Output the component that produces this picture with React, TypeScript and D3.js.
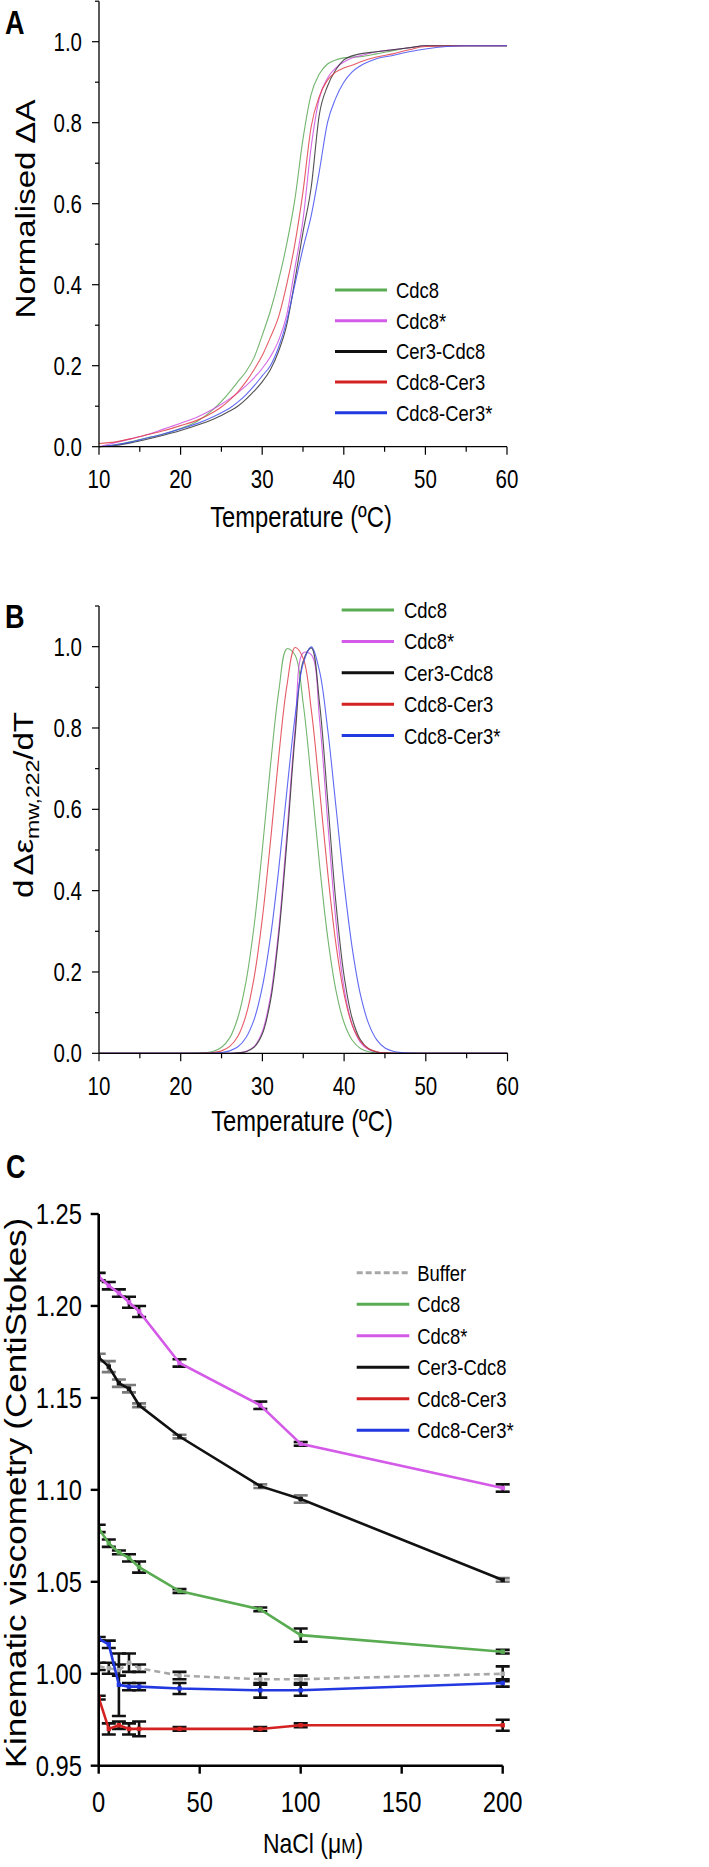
import React from "react";
import * as d3 from "d3";

// ---------------- DATA ----------------
const seriesNames = ["Cdc8", "Cdc8*", "Cer3-Cdc8", "Cdc8-Cer3", "Cdc8-Cer3*"];
const traceColors = ["#5aa855", "#cc4fe0", "#333333", "#e0404a", "#4450f0"];
const legendColors = ["#5aac52", "#d45ae8", "#111111", "#d42222", "#2238e0"];

// Panel A: normalised absorbance change vs temperature
const tempA = [10, 12, 14, 16, 18, 20, 22, 24, 25, 26, 27, 28, 29, 30, 31, 32, 33, 34, 35, 36, 37, 38, 39, 40, 41, 42, 44, 46, 48, 50, 55, 60];
const meltCdc8 = [0.0, 0.005, 0.013, 0.022, 0.032, 0.045, 0.062, 0.092, 0.112, 0.135, 0.16, 0.185, 0.22, 0.275, 0.335, 0.41, 0.5, 0.61, 0.76, 0.87, 0.92, 0.945, 0.955, 0.96, 0.962, 0.963, 0.97, 0.978, 0.985, 0.99, 0.99, 0.99];
const meltCdc8s = [0.0, 0.01, 0.02, 0.03, 0.044, 0.058, 0.073, 0.093, 0.105, 0.118, 0.133, 0.15, 0.17, 0.193, 0.222, 0.262, 0.325, 0.44, 0.56, 0.74, 0.86, 0.91, 0.935, 0.95, 0.96, 0.965, 0.975, 0.98, 0.985, 0.99, 0.99, 0.99];
const meltCer3Cdc8 = [0.0, 0.003, 0.01, 0.019, 0.029, 0.04, 0.053, 0.068, 0.077, 0.088, 0.1, 0.117, 0.137, 0.16, 0.19, 0.235, 0.3, 0.41, 0.53, 0.64, 0.82, 0.89, 0.93, 0.955, 0.965, 0.97, 0.975, 0.98, 0.985, 0.99, 0.99, 0.99];
const meltCdc8Cer3 = [0.008, 0.012, 0.02, 0.03, 0.04, 0.052, 0.065, 0.085, 0.098, 0.115, 0.135, 0.16, 0.19, 0.225, 0.27, 0.32, 0.4, 0.5, 0.63, 0.79, 0.865, 0.905, 0.925, 0.935, 0.942, 0.95, 0.962, 0.97, 0.98, 0.988, 0.99, 0.99];
const meltCdc8Cer3s = [0.0, 0.005, 0.012, 0.022, 0.032, 0.044, 0.057, 0.074, 0.084, 0.095, 0.11, 0.128, 0.15, 0.175, 0.2, 0.245, 0.31, 0.4, 0.49, 0.57, 0.68, 0.8, 0.86, 0.9, 0.925, 0.94, 0.958, 0.966, 0.975, 0.982, 0.99, 0.99];

// Panel B: derivative curves
const tempB = [10, 20, 21, 22, 23, 24, 25, 26, 27, 28, 29, 30, 31, 32, 33, 34, 35, 36, 37, 38, 39, 40, 41, 42, 43, 44, 45, 46, 47, 48, 49, 50, 60];
const derivCdc8 = [0, 0, 0, 0.0004, 0.0016, 0.005, 0.015, 0.038, 0.088, 0.177, 0.316, 0.503, 0.71, 0.89, 0.995, 0.979, 0.859, 0.669, 0.463, 0.284, 0.155, 0.075, 0.032, 0.012, 0.004, 0.001, 0, 0, 0, 0, 0, 0, 0];
const derivCdc8s = [0, 0, 0, 0, 0, 0, 0, 0.0002, 0.001, 0.005, 0.017, 0.054, 0.141, 0.304, 0.541, 0.797, 0.985, 0.98, 0.82, 0.567, 0.325, 0.16, 0.07, 0.027, 0.009, 0.003, 0.001, 0, 0, 0, 0, 0, 0];
const derivCer3Cdc8 = [0, 0, 0, 0, 0, 0, 0, 0.0001, 0.001, 0.004, 0.015, 0.048, 0.13, 0.29, 0.52, 0.78, 0.965, 0.997, 0.86, 0.62, 0.37, 0.19, 0.085, 0.033, 0.011, 0.003, 0.001, 0, 0, 0, 0, 0, 0];
const derivCdc8Cer3 = [0, 0, 0, 0.0001, 0.0005, 0.002, 0.006, 0.017, 0.042, 0.094, 0.188, 0.333, 0.523, 0.73, 0.904, 0.998, 0.971, 0.842, 0.648, 0.443, 0.269, 0.145, 0.069, 0.03, 0.011, 0.004, 0.001, 0, 0, 0, 0, 0, 0];
const derivCdc8Cer3s = [0, 0, 0, 0, 0.0002, 0.0006, 0.002, 0.006, 0.016, 0.039, 0.084, 0.164, 0.287, 0.453, 0.646, 0.829, 0.959, 0.9995, 0.939, 0.795, 0.607, 0.417, 0.258, 0.144, 0.073, 0.033, 0.013, 0.005, 0.0016, 0.0005, 0, 0, 0];

// Panel C: kinematic viscometry vs NaCl
const naclConc = [0, 5, 10, 15, 20, 40, 80, 100, 200];
const viscNames = ["Buffer", "Cdc8", "Cdc8*", "Cer3-Cdc8", "Cdc8-Cer3", "Cdc8-Cer3*"];
const viscColors = ["#a8a8a8", "#5aac52", "#d45ae8", "#111111", "#d42222", "#2238e0"];
const viscBuffer = [1.004, 1.003, 1.002, 1.006, 1.003, 0.999, 0.997, 0.997, 1.0];
const viscCdc8 = [1.079, 1.071, 1.066, 1.063, 1.058, 1.045, 1.035, 1.021, 1.012];
const viscCdc8s = [1.216, 1.211, 1.207, 1.202, 1.197, 1.169, 1.146, 1.125, 1.101];
const viscCer3Cdc8 = [1.172, 1.167, 1.158, 1.155, 1.146, 1.129, 1.102, 1.095, 1.051];
const viscCdc8Cer3 = [0.987, 0.97, 0.972, 0.97, 0.97, 0.97, 0.97, 0.972, 0.972];
const viscCdc8Cer3s = [1.019, 1.016, 0.994, 0.993, 0.993, 0.992, 0.991, 0.991, 0.995];
const errBuffer = [0.002, 0.003, 0.003, 0.005, 0.002, 0.002, 0.003, 0.002, 0.004];
const errCdc8 = [0.002, 0.002, 0.001, 0.002, 0.003, 0.001, 0.001, 0.0036, 0.001];
const errCdc8s = [0.002, 0.002, 0.002, 0.003, 0.003, 0.002, 0.002, 0.001, 0.002];
const errCer3Cdc8 = [0.002, 0.003, 0.002, 0.002, 0.001, 0.001, 0.001, 0.002, 0.001];
const errCdc8Cer3 = [0.001, 0.003, 0.002, 0.003, 0.004, 0.001, 0.001, 0.001, 0.003];
const errCdc8Cer3s = [0.001, 0.002, 0.017, 0.002, 0.002, 0.003, 0.004, 0.003, 0.002];

// ---------------- LAYOUT ----------------
const FONT = "'Liberation Sans', Arial, Helvetica, sans-serif";
const SX = 0.82; // horizontal squeeze of the original figure

function SText(props: any) {
  const { x, y, size, anchor = "start", weight = "normal", rotate = false, children, dy } = props;
  return (
    <g transform={`translate(${x},${y}) scale(${SX},1)${rotate ? " rotate(-90)" : ""}`}>
      <text textAnchor={anchor} fontSize={size} fontWeight={weight} fontFamily={FONT} fill="#000" dy={dy}>
        {children}
      </text>
    </g>
  );
}

function TempPanel(props: any) {
  const { x, y, curves, legend } = props;
  const [yBottom] = y.range();
  const [xLeft, xRight] = x.range();
  const yTop = y.range()[1];
  const yT = y.ticks(11);
  const xT = x.ticks(10);
  const fmt = d3.format(".1f");
  return (
    <g>
      {curves.map((c: any, i: number) => {
        const gen = d3
          .line<number>()
          .x((_d, k) => x(c.t[k]))
          .y((d) => y(d))
          .curve(c.smooth ? d3.curveCatmullRom.alpha(0.5) : d3.curveMonotoneX);
        return <path key={i} d={gen(c.v) || ""} fill="none" stroke={traceColors[i]} strokeWidth={1.1} strokeOpacity={0.85} />;
      })}
      <line x1={xLeft} x2={xLeft} y1={yBottom} y2={yTop} stroke="#000" strokeWidth={1.3} />
      <line x1={xLeft} x2={xRight} y1={yBottom} y2={yBottom} stroke="#000" strokeWidth={1.3} />
      {yT.map((t: number, i: number) => {
        const major = i % 2 === 0 && t <= 1.0001;
        return (
          <g key={"y" + i}>
            <line x1={xLeft - (major ? 7 : 4)} x2={xLeft} y1={y(t)} y2={y(t)} stroke="#000" strokeWidth={1.2} />
            {major && (
              <SText x={82} y={y(t)} size={25} anchor="end" dy="0.36em">
                {fmt(t)}
              </SText>
            )}
          </g>
        );
      })}
      {xT.map((t: number, i: number) => {
        const major = t % 10 === 0;
        return (
          <g key={"x" + i}>
            <line x1={x(t)} x2={x(t)} y1={yBottom} y2={yBottom + (major ? 8 : 5)} stroke="#000" strokeWidth={1.2} />
            {major && (
              <SText x={x(t)} y={yBottom + 41.5} size={25} anchor="middle">
                {t}
              </SText>
            )}
          </g>
        );
      })}
      {seriesNames.map((n, i) => {
        const ry = legend.y0 + i * legend.dy;
        return (
          <g key={"l" + i}>
            <line x1={legend.x1} x2={legend.x2} y1={ry} y2={ry} stroke={legendColors[i]} strokeWidth={3} />
            <SText x={legend.tx} y={ry + 8} size={22.5}>
              {n}
            </SText>
          </g>
        );
      })}
    </g>
  );
}

export default function App() {
  // Panel A scales
  const xA = d3.scaleLinear().domain([10, 60]).range([99, 507]);
  const yA = d3.scaleLinear().domain([0, 1.1]).range([446.7, 1.2]);
  // Panel B scales
  const xB = d3.scaleLinear().domain([10, 60]).range([99, 507.5]);
  const yB = d3.scaleLinear().domain([0, 1.1]).range([1053.3, 606]);
  // Panel C scales
  const xC = d3.scaleLinear().domain([0, 200]).range([98.7, 502.7]);
  const yC = d3.scaleLinear().domain([0.95, 1.25]).range([1765.7, 1214]);

  const curvesA = [meltCdc8, meltCdc8s, meltCer3Cdc8, meltCdc8Cer3, meltCdc8Cer3s].map((v) => ({ t: tempA, v, smooth: false }));
  const curvesB = [derivCdc8, derivCdc8s, derivCer3Cdc8, derivCdc8Cer3, derivCdc8Cer3s].map((v) => ({ t: tempB, v, smooth: true }));

  const viscSeries = [viscBuffer, viscCdc8, viscCdc8s, viscCer3Cdc8, viscCdc8Cer3, viscCdc8Cer3s];
  const viscErr = [errBuffer, errCdc8, errCdc8s, errCer3Cdc8, errCdc8Cer3, errCdc8Cer3s];
  const lineC = d3
    .line<number>()
    .x((_d, k) => xC(naclConc[k]))
    .y((d) => yC(d));
  const [cLeft, cRight] = xC.range();
  const [cBottom, cTop] = yC.range();
  const fmt2 = d3.format(".2f");
  const capHalf = 7;

  return (
    <svg width={709} height={1867} viewBox="0 0 709 1867" style={{ display: "block", position: "absolute", left: 0, top: 0 }}>
      <rect x={0} y={0} width={709} height={1867} fill="#fff" />
      <defs>
        <clipPath id="clipC">
          <rect x={cLeft} y={cTop - 10} width={cRight - cLeft + 20} height={cBottom - cTop + 20} />
        </clipPath>
      </defs>

      {/* Panel A */}
      <SText x={5} y={34} size={33} weight="bold">A</SText>
      <TempPanel x={xA} y={yA} curves={curvesA} legend={{ x1: 335, x2: 387, tx: 396, y0: 290, dy: 30.7 }} />
      <SText x={35} y={209} size={33} anchor="middle" rotate>
        Normalised<tspan dx={8}>ΔA</tspan>
      </SText>
      <SText x={301} y={527} size={29} anchor="middle">Temperature (ºC)</SText>

      {/* Panel B */}
      <SText x={5} y={628} size={33} weight="bold">B</SText>
      <TempPanel x={xB} y={yB} curves={curvesB} legend={{ x1: 341.7, x2: 394, tx: 404, y0: 610, dy: 31.4 }} />
      <SText x={33} y={805} size={33} anchor="middle" rotate>
        d<tspan dx={4}>Δε</tspan>
        <tspan fontSize={23} dy={7}>mw,222</tspan>
        <tspan dy={-7}>/dT</tspan>
      </SText>
      <SText x={302} y={1131} size={29} anchor="middle">Temperature (ºC)</SText>

      {/* Panel C */}
      <SText x={6} y={1178} size={33} weight="bold">C</SText>
      <g clipPath="url(#clipC)">
        {viscSeries.map((vals, s) => (
          <g key={"e" + s}>
            {vals.map((v, k) => {
              const e = viscErr[s][k];
              const cx = xC(naclConc[k]);
              const col = s === 3 ? "#7a7a7a" : "#111";
              return (
                <g key={k} stroke={col} strokeWidth={2.6}>
                  <line x1={cx} x2={cx} y1={yC(v - e)} y2={yC(v + e)} />
                  <line x1={cx - capHalf} x2={cx + capHalf} y1={yC(v + e)} y2={yC(v + e)} />
                  <line x1={cx - capHalf} x2={cx + capHalf} y1={yC(v - e)} y2={yC(v - e)} />
                </g>
              );
            })}
          </g>
        ))}
        {viscSeries.map((vals, s) => (
          <g key={"l" + s}>
            <path
              d={lineC(vals) || ""}
              fill="none"
              stroke={viscColors[s]}
              strokeWidth={2.6}
              strokeDasharray={s === 0 ? "6,4" : undefined}
            />
            {vals.map((v, k) => (
              <rect key={k} x={xC(naclConc[k]) - 2.2} y={yC(v) - 2.2} width={4.4} height={4.4} fill={viscColors[s]} />
            ))}
          </g>
        ))}
      </g>
      <line x1={cLeft} x2={cLeft} y1={cBottom} y2={cTop} stroke="#000" strokeWidth={2.6} />
      <line x1={cLeft} x2={cRight} y1={cBottom} y2={cBottom} stroke="#000" strokeWidth={2.6} />
      {yC.ticks(6).map((t: number, i: number) => (
        <g key={"cy" + i}>
          <line x1={cLeft - 8} x2={cLeft} y1={yC(t)} y2={yC(t)} stroke="#000" strokeWidth={2.4} />
          <SText x={82} y={yC(t)} size={29} anchor="end" dy="0.36em">{fmt2(t)}</SText>
        </g>
      ))}
      {xC.ticks(4).map((t: number, i: number) => (
        <g key={"cx" + i}>
          <line x1={xC(t)} x2={xC(t)} y1={cBottom} y2={cBottom + 8} stroke="#000" strokeWidth={2.4} />
          <SText x={xC(t)} y={1811.5} size={29} anchor="middle">{t}</SText>
        </g>
      ))}
      <SText x={26} y={1493} size={35} anchor="middle" rotate>
        Kinematic viscometry<tspan dx={8}>(CentiStokes)</tspan>
      </SText>
      <SText x={313} y={1853} size={28} anchor="middle">
        NaCl (μ<tspan fontSize={21}>M</tspan>)
      </SText>
      {viscNames.map((n, i) => {
        const ry = 1272.7 + i * 31.5;
        return (
          <g key={"cl" + i}>
            <line
              x1={356.7}
              x2={409.3}
              y1={ry}
              y2={ry}
              stroke={viscColors[i]}
              strokeWidth={3}
              strokeDasharray={i === 0 ? "6,3" : undefined}
            />
            <SText x={417.3} y={ry + 8} size={22.5}>{n}</SText>
          </g>
        );
      })}
    </svg>
  );
}
